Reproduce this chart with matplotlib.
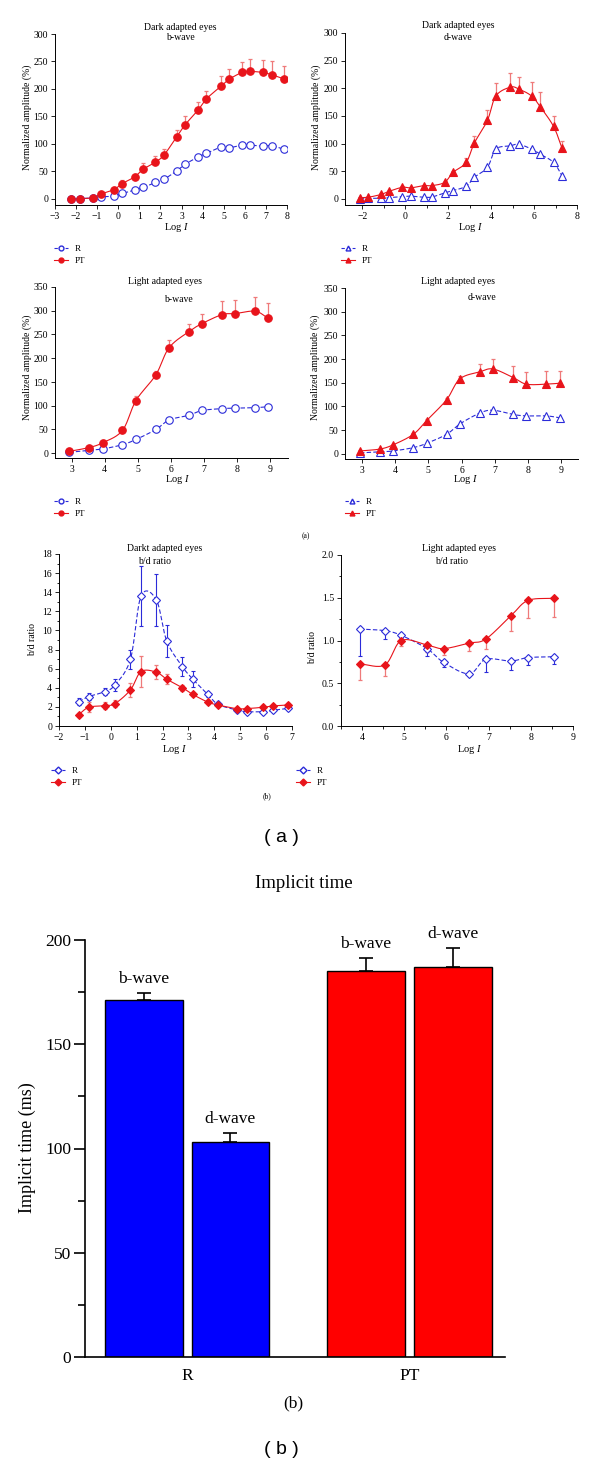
import numpy as np
import matplotlib
matplotlib.use('Agg')
import matplotlib.pyplot as plt
from matplotlib.lines import Line2D
from matplotlib.ticker import MultipleLocator

plt.rcParams['font.family'] = ['Liberation Serif', 'DejaVu Serif']
plt.rcParams['mathtext.fontset'] = 'custom'
plt.rcParams['mathtext.rm'] = 'Liberation Serif'
plt.rcParams['mathtext.it'] = 'Liberation Serif:italic'

### --- Data --- ###
# Dark adapted, b-wave
db_x = [-2.24, -1.82, -1.22, -0.82, -0.21, 0.19, 0.77, 1.18, 1.76, 2.17, 2.77,
        3.17, 3.77, 4.18, 4.87, 5.27, 5.87, 6.25, 6.86, 7.27, 7.88]
db_pt = [0, 0.6, 2, 9, 17, 28, 40, 54, 67, 80, 113, 135, 161, 182, 205, 218, 230, 232, 230, 226, 218]
db_pt_err = [0.5, 1, 1, 4, 4, 7, 5, 11, 11, 10, 12, 15, 15, 14, 18, 19, 19, 22, 23, 24, 23]
db_r = [0, 0.5, 2, 4, 5, 10, 16, 21, 30, 36, 51, 63, 76, 83, 94, 93, 98, 98, 96, 97, 90]

# Dark adapted, d-wave
dd_x = [-2.11, -1.72, -1.13, -0.73, -0.13, 0.27, 0.86, 1.25, 1.84, 2.23, 2.84,
        3.22, 3.83, 4.22, 4.89, 5.28, 5.89, 6.28, 6.91, 7.30]
dd_pt = [2, 3, 8, 14, 21, 20, 24, 24, 30, 48, 66, 101, 142, 186, 202, 199, 186, 167, 131, 92]
dd_pt_err = [1, 1, 2, 2, 2, 2, 2, 2, 2, 3, 8, 13, 19, 23, 25, 22, 26, 27, 19, 13]
dd_r = [0, 1, 1, 2.5, 4, 5, 3, 3.5, 11, 15, 23, 39, 57, 90, 96, 99, 90, 81, 66, 42]

# Light adapted, b-wave
lb_x = [2.93, 3.53, 3.94, 4.54, 4.95, 5.55, 5.95, 6.55, 6.95, 7.56, 7.95, 8.56, 8.95]
lb_pt = [4, 12, 22, 48, 111, 165, 222, 256, 273, 292, 294, 299, 284]
lb_pt_err = [2, 3, 5, 7, 10, 9, 16, 17, 21, 28, 29, 29, 32]
lb_r = [2, 6, 9, 18, 29, 50, 70, 80, 90, 94, 95, 96, 98]

# Light adapted, d-wave
ld_x = [2.95, 3.55, 3.95, 4.55, 4.95, 5.55, 5.95, 6.55, 6.95, 7.55, 7.95, 8.55, 8.95]
ld_pt = [6, 10, 19, 41, 70, 114, 158, 173, 179, 161, 147, 147, 149]
ld_pt_err = [1, 1, 2, 2, 3, 4, 6, 16, 22, 24, 26, 28, 26]
ld_r = [2, 4, 6, 13, 22, 41, 63, 86, 92, 83, 80, 80, 76]
ld_r_err = [1, 1, 1, 2, 3, 5, 7, 4, 3, 3, 3, 3, 3]

# Dark adapted, b/d ratio
dr_x = [-1.24, -0.85, -0.23, 0.16, 0.76, 1.17, 1.76, 2.16, 2.77, 3.17, 3.75,
        4.14, 4.86, 5.26, 5.87, 6.26, 6.86]
dr_r = [2.55, 3.08, 3.6, 4.3, 7.0, 13.6, 13.2, 8.9, 6.2, 4.9, 3.3, 2.27, 1.68, 1.5, 1.5, 1.64, 1.85]
dr_r_err = [0.4, 0.4, 0.4, 0.6, 1.0, 3.15, 2.7, 1.65, 1.0, 0.85, 0.3, 0.2, 0.2, 0.2, 0.2, 0.2, 0.2]
dr_pt = [1.19, 1.96, 2.13, 2.34, 3.78, 5.7, 5.63, 4.9, 4.0, 3.3, 2.5, 2.2, 1.82, 1.82, 1.96, 2.1, 2.2]
dr_pt_err = [0.2, 0.5, 0.35, 0.4, 0.75, 1.65, 0.75, 0.55, 0.3, 0.2, 0.2, 0.2, 0.2, 0.2, 0.2, 0.2, 0.2]

# Light adapted, b/d ratio
lr_x = [3.94, 4.54, 4.93, 5.54, 5.93, 6.54, 6.93, 7.53, 7.93, 8.54]
lr_r = [1.134, 1.115, 1.06, 0.905, 0.745, 0.61, 0.78, 0.76, 0.80, 0.81]
lr_r_err = [0.31, 0.10, 0.03, 0.09, 0.05, 0.02, 0.15, 0.10, 0.09, 0.09]
lr_pt = [0.726, 0.715, 1.00, 0.947, 0.905, 0.97, 1.016, 1.29, 1.468, 1.495]
lr_pt_err = [0.19, 0.135, 0.07, 0.08, 0.07, 0.09, 0.12, 0.18, 0.21, 0.22]

# Implicit time bars
groups = ['R', 'PT']
waves = ['b-wave', 'd-wave']
it_r = [171, 103]
it_r_err = [3.5, 4.3]
it_pt = [185, 187]
it_pt_err = [6.3, 9.1]

### --- Helpers --- ###
W, H = 600, 1466
BLUE = '#2b2bd9'
RED = '#e8141b'
RED_ERR = '#ef7a7a'
MS = {'o': 5.4, '^': 5.4, 'D': 4.2}

fig = plt.figure(figsize=(W/100, H/100), dpi=100)


def add_ax(l, t, r, b):
    return fig.add_axes([l/W, 1-b/H, (r-l)/W, (b-t)/H])


def ftext(x, y, s, **kw):
    kw.setdefault('ha', 'center')
    kw.setdefault('va', 'center')
    fig.text(x/W, 1-y/H, s, **kw)


def smooth(x, y, n=16):
    # Catmull-Rom curve through the points, only used to draw the connector
    x = np.asarray(x, float); y = np.asarray(y, float)
    px = np.concatenate([[2*x[0]-x[1]], x, [2*x[-1]-x[-2]]])
    py = np.concatenate([[2*y[0]-y[1]], y, [2*y[-1]-y[-2]]])
    t = np.linspace(0, 1, n, endpoint=False)
    xs, ys = [], []
    for i in range(1, len(px)-2):
        for p, out in ((px, xs), (py, ys)):
            p0, p1, p2, p3 = p[i-1], p[i], p[i+1], p[i+2]
            out.append(0.5*(2*p1 + (-p0+p2)*t + (2*p0-5*p1+4*p2-p3)*t**2 + (-p0+3*p1-3*p2+p3)*t**3))
    return np.concatenate(xs + [[x[-1]]]), np.concatenate(ys + [[y[-1]]])


def style(ax):
    for s in ('top', 'right'):
        ax.spines[s].set_visible(False)
    for s in ('left', 'bottom'):
        ax.spines[s].set_linewidth(0.7)
    ax.tick_params(which='both', direction='out', width=0.6, labelsize=7, pad=2)
    ax.tick_params(which='major', length=3)
    ax.tick_params(which='minor', length=1.8)


def series(ax, x, r, pt, marker, pt_err=None, r_err=None, pt_err_dir='up', r_err_dir='both'):
    def yerr(e, d):
        e = np.asarray(e, float)
        z = np.zeros_like(e)
        return {'up': [z, e], 'down': [e, z], 'both': [e, e]}[d]
    if r_err is not None:
        ax.errorbar(x, r, yerr=yerr(r_err, r_err_dir), fmt='none', ecolor=BLUE,
                    elinewidth=0.8, capsize=1.6, capthick=0.8, zorder=2)
    if pt_err is not None:
        ax.errorbar(x, pt, yerr=yerr(pt_err, pt_err_dir), fmt='none', ecolor=RED_ERR,
                    elinewidth=0.9, capsize=1.6, capthick=0.9, zorder=2)
    sx, sy = smooth(x, r)
    ax.plot(sx, sy, color=BLUE, lw=0.8, ls=(0, (4, 2)), zorder=3)
    sx, sy = smooth(x, pt)
    ax.plot(sx, sy, color=RED, lw=0.8, zorder=3)
    ms = MS[marker]
    ax.plot(x, r, ls='none', marker=marker, ms=ms, mfc='white', mec=BLUE, mew=0.8, zorder=4)
    ax.plot(x, pt, ls='none', marker=marker, ms=ms, mfc=RED, mec=RED, mew=0.8, zorder=5)


def legend(ax, x, y, marker):
    h = [Line2D([], [], color=BLUE, lw=0.8, ls=(0, (3, 2)), marker=marker, ms=3.5, mfc='white', mec=BLUE),
         Line2D([], [], color=RED, lw=0.8, marker=marker, ms=3.5, mfc=RED, mec=RED)]
    ax.legend(h, ['R', 'PT'], loc='upper left', bbox_to_anchor=(x/W, 1-y/H),
              bbox_transform=fig.transFigure, frameon=False, fontsize=6.5,
              handlelength=1.6, handletextpad=0.7, labelspacing=0.35,
              borderpad=0, borderaxespad=0)


### --- Dark adapted b-wave --- ###
ax = add_ax(55, 34, 287, 205)
style(ax)
series(ax, db_x, db_r, db_pt, 'o', pt_err=db_pt_err)
ax.set_xlim(-3, 8); ax.set_ylim(-11, 300)
ax.xaxis.set_major_locator(MultipleLocator(1))
ax.yaxis.set_major_locator(MultipleLocator(50))
legend(ax, 54, 245, 'o')
ftext(180, 27, 'Dark adapted eyes', fontsize=7)
ftext(180, 38, 'b-wave', fontsize=7)
ftext(177, 228, 'Log $I$', fontsize=7.5)
ftext(27, 117, 'Normalized amplitude (%)', fontsize=7, rotation=90)

### --- Dark adapted d-wave --- ###
ax = add_ax(345, 33, 577, 205)
style(ax)
series(ax, dd_x, dd_r, dd_pt, '^', pt_err=dd_pt_err)
ax.set_xlim(-2.8, 8); ax.set_ylim(-11, 300)
ax.xaxis.set_major_locator(MultipleLocator(2))
ax.xaxis.set_minor_locator(MultipleLocator(1))
ax.yaxis.set_major_locator(MultipleLocator(50))
legend(ax, 341, 245, '^')
ftext(458, 26, 'Dark adapted eyes', fontsize=7)
ftext(458, 38, 'd-wave', fontsize=7)
ftext(471, 228, 'Log $I$', fontsize=7.5)
ftext(316, 117, 'Normalized amplitude (%)', fontsize=7, rotation=90)

### --- Light adapted b-wave --- ###
ax = add_ax(55, 287, 288, 458)
style(ax)
series(ax, lb_x, lb_r, lb_pt, 'o', pt_err=lb_pt_err)
ax.set_xlim(2.5, 9.55); ax.set_ylim(-10, 350)
ax.xaxis.set_major_locator(MultipleLocator(1))
ax.yaxis.set_major_locator(MultipleLocator(50))
legend(ax, 54, 498, 'o')
ftext(165, 282, 'Light adapted eyes', fontsize=7)
ftext(178, 300, 'b-wave', fontsize=7)
ftext(178, 480, 'Log $I$', fontsize=7.5)
ftext(27, 367, 'Normalized amplitude (%)', fontsize=7, rotation=90)

### --- Light adapted d-wave --- ###
ax = add_ax(345, 288, 578, 459)
style(ax)
series(ax, ld_x, ld_r, ld_pt, '^', pt_err=ld_pt_err, r_err=ld_r_err, r_err_dir='down')
ax.set_xlim(2.5, 9.5); ax.set_ylim(-11, 350)
ax.xaxis.set_major_locator(MultipleLocator(1))
ax.yaxis.set_major_locator(MultipleLocator(50))
legend(ax, 345, 498, '^')
ftext(458, 282, 'Light adapted eyes', fontsize=7)
ftext(482, 298, 'd-wave', fontsize=7)
ftext(466, 480, 'Log $I$', fontsize=7.5)
ftext(315, 367, 'Normalized amplitude (%)', fontsize=7, rotation=90)

### --- Dark adapted b/d ratio --- ###
ax = add_ax(59, 554, 292, 726)
style(ax)
series(ax, dr_x, dr_r, dr_pt, 'D', pt_err=dr_pt_err, r_err=dr_r_err, pt_err_dir='both')
ax.set_xlim(-2, 7); ax.set_ylim(0, 18)
ax.xaxis.set_major_locator(MultipleLocator(1))
ax.yaxis.set_major_locator(MultipleLocator(2))
ax.yaxis.set_minor_locator(MultipleLocator(1))
legend(ax, 51, 767, 'D')
ftext(165, 549, 'Darkt adapted eyes', fontsize=7)
ftext(155, 562, 'b/d ratio', fontsize=7)
ftext(175, 750, 'Log $I$', fontsize=7.5)
ftext(33, 640, 'b/d ratio', fontsize=7, rotation=90)

### --- Light adapted b/d ratio --- ###
ax = add_ax(341, 555, 573, 726)
style(ax)
series(ax, lr_x, lr_r, lr_pt, 'D', pt_err=lr_pt_err, r_err=lr_r_err,
       pt_err_dir='down', r_err_dir='down')
ax.set_xlim(3.5, 9); ax.set_ylim(0, 2.0)
ax.xaxis.set_major_locator(MultipleLocator(1))
ax.xaxis.set_minor_locator(MultipleLocator(0.5))
ax.yaxis.set_major_locator(MultipleLocator(0.5))
ax.yaxis.set_minor_locator(MultipleLocator(0.25))
ax.yaxis.set_major_formatter(matplotlib.ticker.FormatStrFormatter('%.1f'))
legend(ax, 296, 767, 'D')
ftext(306, 536, '(a)', fontsize=5.5)
ftext(459, 549, 'Light adapted eyes', fontsize=7)
ftext(452, 562, 'b/d ratio', fontsize=7)
ftext(470, 750, 'Log $I$', fontsize=7.5)
ftext(313, 647, 'b/d ratio', fontsize=7, rotation=90)

ftext(267, 796, '(b)', fontsize=5.5)
ftext(281, 838, '( a )', fontsize=14, family='Liberation Sans')

### --- Implicit time bars --- ###
ftext(304, 883, 'Implicit time', fontsize=13.5)
ax = add_ax(85, 940, 505, 1357)
for s in ('top', 'right'):
    ax.spines[s].set_visible(False)
ax.spines['left'].set_linewidth(1.2)
ax.spines['bottom'].set_linewidth(1.2)
gx = np.array([0.0, 2.85])
off = 0.557
vals = [it_r, it_pt]
errs = [it_r_err, it_pt_err]
cols = ['#0000ff', '#ff0000']
for g in range(2):
    for w in range(2):
        xb = gx[g] + (-off if w == 0 else off)
        ax.bar(xb, vals[g][w], width=1.0, color=cols[g], edgecolor='black', linewidth=1.0, zorder=2)
        ax.errorbar(xb, vals[g][w], yerr=[[0], [errs[g][w]]], fmt='none', ecolor='black',
                    elinewidth=1.2, capsize=5, capthick=1.2, zorder=3)
        ax.annotate(waves[w], (xb, vals[g][w] + errs[g][w]), xytext=(0, 10),
                    textcoords='offset points', ha='center', va='center', fontsize=12.5)
ax.set_xlim(-1.31, 4.08)
ax.set_ylim(0, 200)
ax.set_xticks(gx)
ax.set_xticklabels(groups)
ax.yaxis.set_major_locator(MultipleLocator(50))
ax.yaxis.set_minor_locator(MultipleLocator(25))
ax.tick_params(axis='x', length=0, labelsize=12.5, pad=8)
ax.tick_params(axis='y', which='major', length=8, width=1.2, labelsize=12.5, pad=2)
ax.tick_params(axis='y', which='minor', length=5, width=1.2)
ftext(27, 1148, 'Implicit time (ms)', fontsize=13, rotation=90)
ftext(293, 1403, '(b)', fontsize=12.5)
ftext(281, 1450, '( b )', fontsize=14, family='Liberation Sans')

fig.savefig('out.png', dpi=100)
